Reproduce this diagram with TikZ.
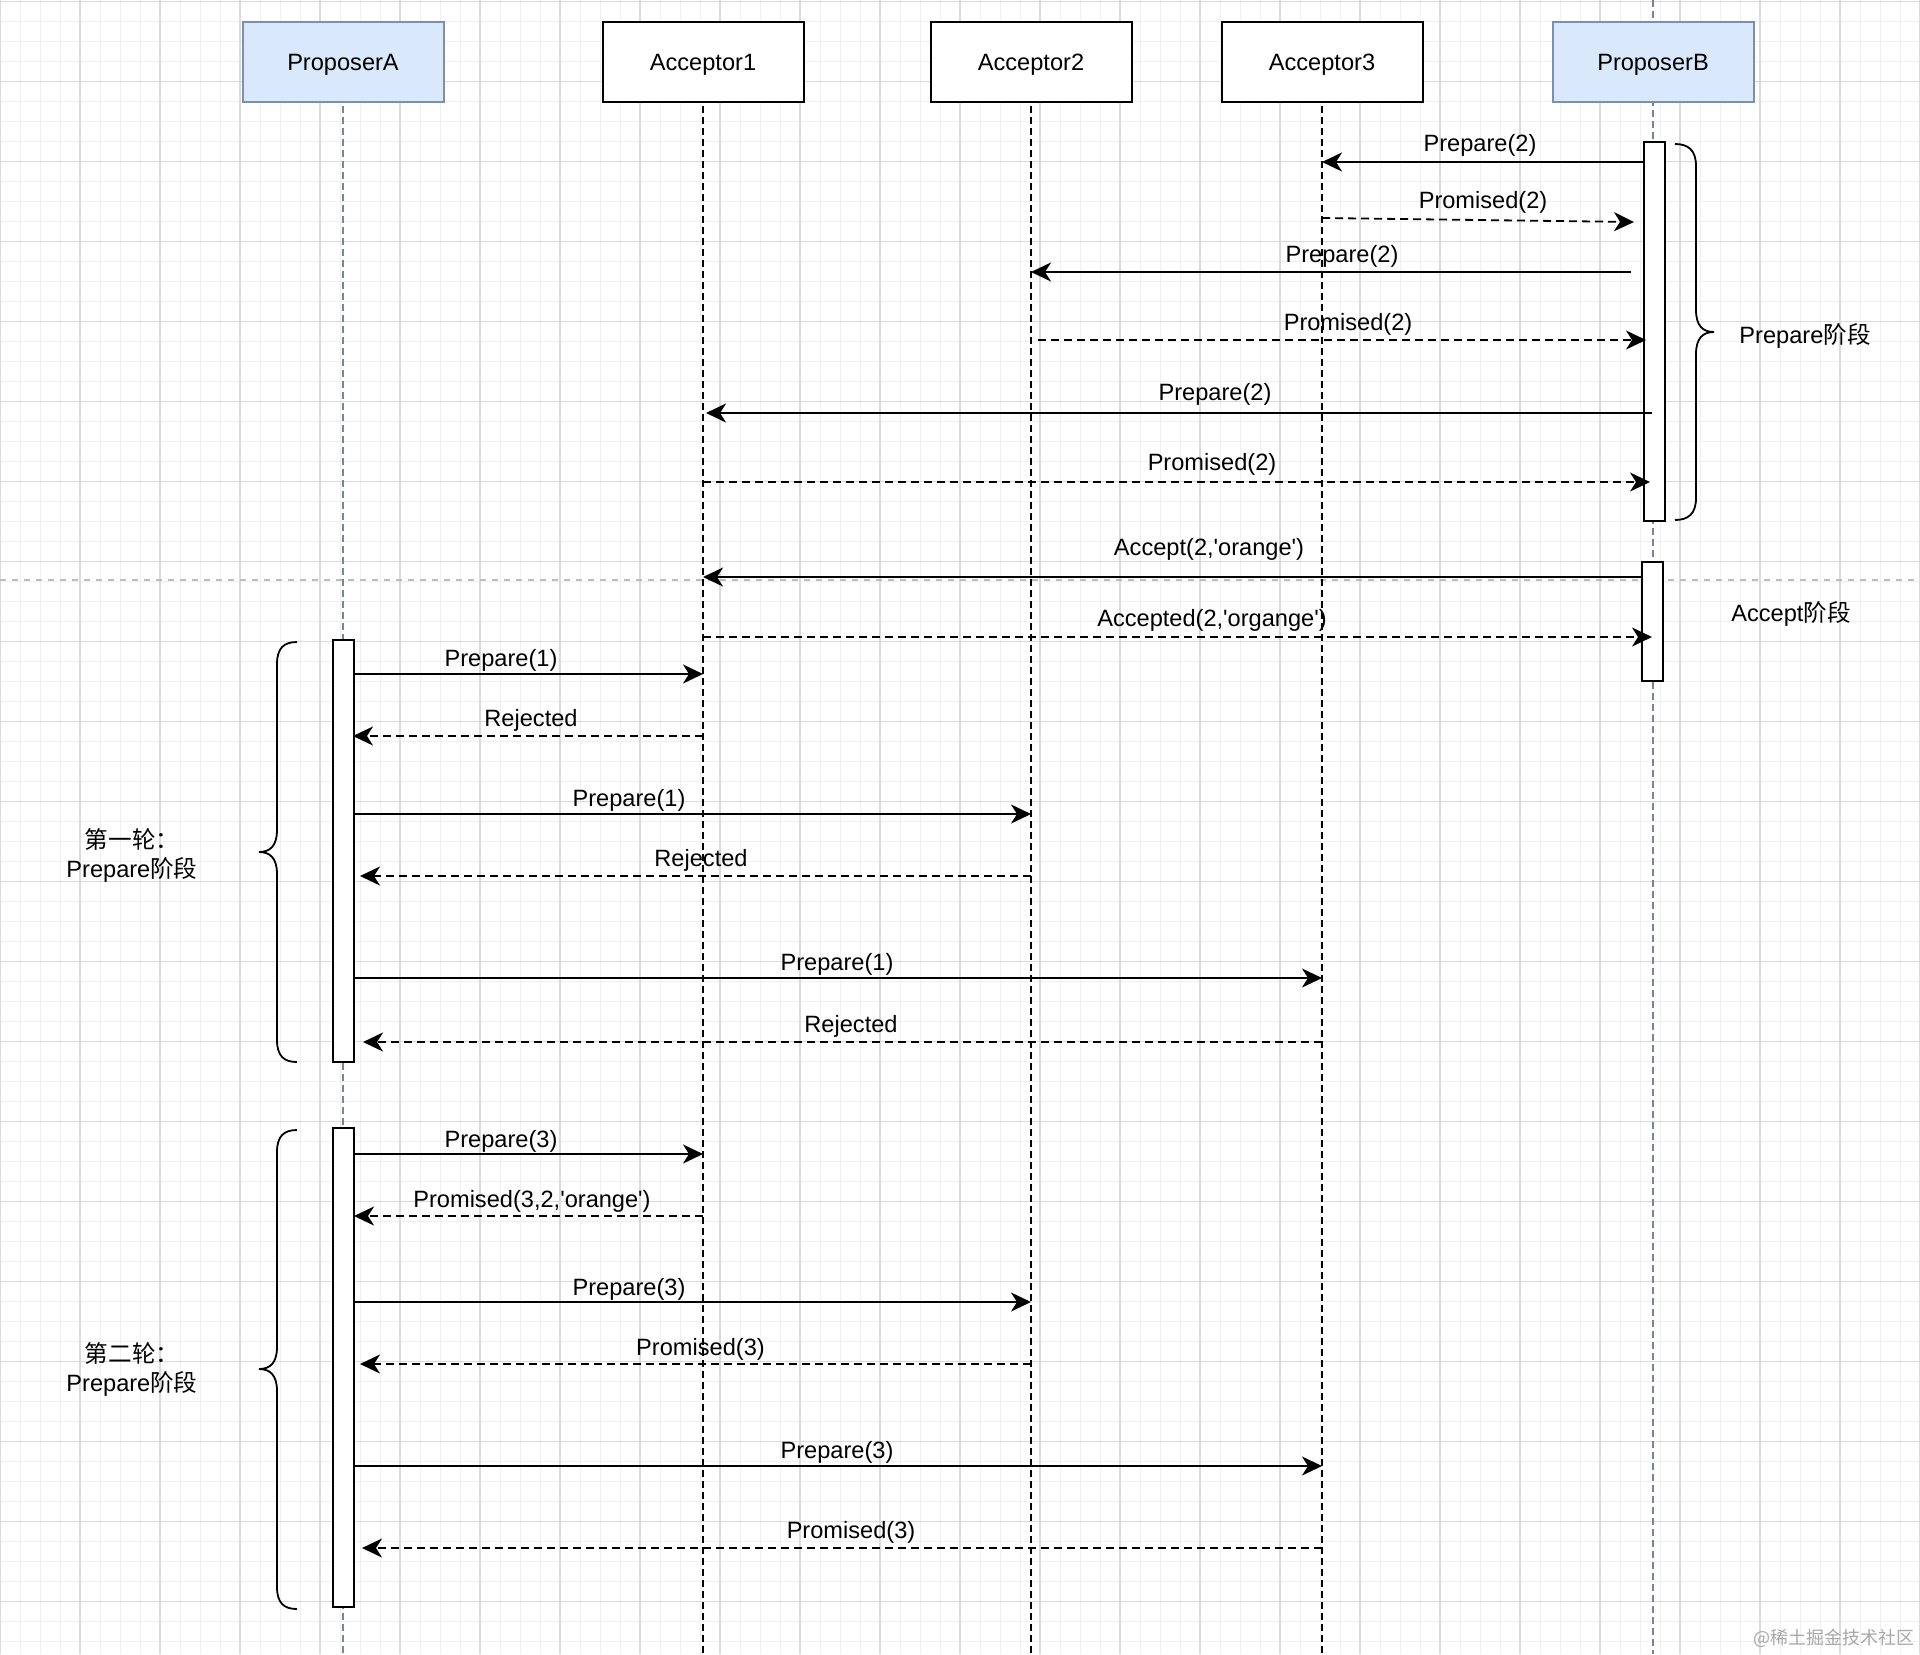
\documentclass[tikz,border=0pt]{standalone}
\usepackage{fontspec}
\setmainfont{Liberation Sans}
\newfontfamily\cjk{Noto Sans CJK SC}
\usetikzlibrary{arrows.meta}
\definecolor{gridmaj}{HTML}{DADADA}
\definecolor{gridmin}{HTML}{F0F0F0}
\definecolor{propfill}{HTML}{DAE8FC}
\definecolor{propdraw}{HTML}{7C8FB0}
\definecolor{lifegrey}{HTML}{7A8496}
\definecolor{sepgrey}{HTML}{BDBDBD}
\definecolor{wmgrey}{HTML}{A8A8A8}
\newcommand\sq{\textquotesingle}
\begin{document}
\begin{tikzpicture}[x=0.5pt,y=-0.5pt,
  every node/.style={font=\fontsize{11.8pt}{14.5pt}\selectfont},
  gridminor/.style={draw=gridmin,line width=0.5pt},
  gridmajor/.style={draw=gridmaj,line width=0.6pt},
  accbox/.style={draw=black,line width=1pt,fill=white,minimum width=100.5pt,minimum height=40pt,inner sep=0pt,text height=10pt,text depth=1.5pt},
  propbox/.style={draw=propdraw,line width=1pt,fill=propfill,minimum width=100.5pt,minimum height=40pt,inner sep=0pt,text height=10pt,text depth=1.5pt},
  lifeacc/.style={draw=black,line width=0.8pt,dash pattern=on 3.5pt off 2pt},
  lifeprop/.style={draw=lifegrey,line width=0.8pt,dash pattern=on 3.5pt off 2pt},
  actbar/.style={draw=black,line width=1pt,fill=white,minimum width=10.5pt,inner sep=0pt},
  msg/.style={line width=0.9pt,-{Stealth[length=10pt,width=9.5pt,inset=3pt]}},
  rep/.style={msg,dash pattern=on 4pt off 2.5pt},
  sepline/.style={draw=sepgrey,line width=0.6pt,dash pattern=on 3pt off 3pt},
  bracestyle/.style={draw=black,line width=0.9pt},
  lbl/.style={inner sep=0pt,yshift=-1.25pt},
  wm/.style={inner sep=0pt,text=wmgrey,font=\fontsize{9pt}{11pt}\selectfont}
]
\useasboundingbox (0,0) rectangle (1920,1654);
\fill[white] (0,0) rectangle (1920,1654);
% grid
\foreach \gx in {0,20,...,1920} \draw[gridminor] (\gx,0) -- (\gx,1654);
\foreach \gy in {1.5,21.5,...,1654} \draw[gridminor] (0,\gy) -- (1920,\gy);
\foreach \gx in {0,80,...,1920} \draw[gridmajor] (\gx,0) -- (\gx,1654);
\foreach \gy in {1.5,81.5,...,1654} \draw[gridmajor] (0,\gy) -- (1920,\gy);

% separator
\coordinate (sepL) at (0,580);
\coordinate (sepR) at (1920,580);
\draw[sepline] (sepL) -- (sepR);

% header positions
\coordinate (pAtop) at (343,62);
\coordinate (a1top) at (703,62);
\coordinate (a2top) at (1031,62);
\coordinate (a3top) at (1322,62);
\coordinate (pBtop) at (1653,62);
\coordinate (pBsky) at (1653,0);
\coordinate (pAend) at (343,1654);
\coordinate (a1end) at (703,1654);
\coordinate (a2end) at (1031,1654);
\coordinate (a3end) at (1322,1654);
\coordinate (pBend) at (1653,1654);

% lifelines
\draw[lifeprop] (pAtop) -- (pAend);
\draw[lifeacc] (a1top) -- (a1end);
\draw[lifeacc] (a2top) -- (a2end);
\draw[lifeacc] (a3top) -- (a3end);
\draw[lifeprop] (pBsky) -- (pBend);

% headers
\node[propbox] (pA) at (pAtop) {ProposerA};
\node[accbox] (a1) at (a1top) {Acceptor1};
\node[accbox] (a2) at (a2top) {Acceptor2};
\node[accbox] (a3) at (a3top) {Acceptor3};
\node[propbox] (pB) at (pBtop) {ProposerB};

% activation bars
\node[actbar,minimum height=189.5pt] (barB1) at (1654.5,331.5) {};
\node[actbar,minimum height=59.5pt] (barB2) at (1652.5,621.5) {};
\node[actbar,minimum height=211pt] (barA1) at (343,851) {};
\node[actbar,minimum height=239.5pt] (barA2) at (343,1367.5) {};

% braces
\draw[bracestyle] (1675,144) .. controls (1688,144) and (1696,150) .. (1696,166) -- (1696,310)
  .. controls (1696,326) and (1703,332) .. (1714,332)
  .. controls (1703,332) and (1696,338) .. (1696,354) -- (1696,498)
  .. controls (1696,514) and (1688,520) .. (1675,520);
\draw[bracestyle] (297,642) .. controls (284,642) and (277,648) .. (277,664) -- (277,830)
  .. controls (277,846) and (270,852) .. (259,852)
  .. controls (270,852) and (277,858) .. (277,874) -- (277,1040)
  .. controls (277,1056) and (284,1062) .. (297,1062);
\draw[bracestyle] (297,1130) .. controls (284,1130) and (277,1136) .. (277,1152) -- (277,1347)
  .. controls (277,1363) and (270,1369) .. (259,1369)
  .. controls (270,1369) and (277,1375) .. (277,1391) -- (277,1587)
  .. controls (277,1603) and (284,1609) .. (297,1609);

% phase labels
\node[lbl] (phP) at (1805,333) {Prepare{\cjk 阶段}};
\node[lbl] (phA) at (1791,611) {Accept{\cjk 阶段}};
\node[lbl,align=center] (r1) at (132,852.5) {{\cjk 第一轮：}\\Prepare{\cjk 阶段}};
\node[lbl,align=center] (r2) at (132,1366.5) {{\cjk 第二轮：}\\Prepare{\cjk 阶段}};

% ---- ProposerB prepare phase
\coordinate (m1s) at (1645,162);   \coordinate (m1e) at (1322,162);
\coordinate (m2s) at (1322,218);   \coordinate (m2e) at (1634,222);
\coordinate (m3s) at (1631,272);   \coordinate (m3e) at (1031,272);
\coordinate (m4s) at (1038,340);   \coordinate (m4e) at (1646,340);
\coordinate (m5s) at (1652,413);   \coordinate (m5e) at (706,413);
\coordinate (m6s) at (703,482);    \coordinate (m6e) at (1650,482);
\coordinate (m7s) at (1643,577);   \coordinate (m7e) at (703,577);
\coordinate (m8s) at (703,637);    \coordinate (m8e) at (1652,637);
\draw[msg] (m1s) -- (m1e);
\draw[rep] (m2s) -- (m2e);
\draw[msg] (m3s) -- (m3e);
\draw[rep] (m4s) -- (m4e);
\draw[msg] (m5s) -- (m5e);
\draw[rep] (m6s) -- (m6e);
\draw[msg] (m7s) -- (m7e);
\draw[rep] (m8s) -- (m8e);
\node[lbl] (l1) at (1480,143) {Prepare(2)};
\node[lbl] (l2) at (1483,200) {Promised(2)};
\node[lbl] (l3) at (1342,254) {Prepare(2)};
\node[lbl] (l4) at (1348,322) {Promised(2)};
\node[lbl] (l5) at (1215,392) {Prepare(2)};
\node[lbl] (l6) at (1212,462) {Promised(2)};
\node[lbl] (l7) at (1209,547) {Accept(2,\sq orange\sq)};
\node[lbl] (l8) at (1212,618) {Accepted(2,\sq organge\sq)};

% ---- ProposerA round 1
\coordinate (n1s) at (353,674);    \coordinate (n1e) at (703,674);
\coordinate (n2s) at (703,736);    \coordinate (n2e) at (353,736);
\coordinate (n3s) at (353,814);    \coordinate (n3e) at (1031,814);
\coordinate (n4s) at (1031,876);   \coordinate (n4e) at (360,876);
\coordinate (n5s) at (353,978);    \coordinate (n5e) at (1322,978);
\coordinate (n6s) at (1322,1042);  \coordinate (n6e) at (363,1042);
\draw[msg] (n1s) -- (n1e);
\draw[rep] (n2s) -- (n2e);
\draw[msg] (n3s) -- (n3e);
\draw[rep] (n4s) -- (n4e);
\draw[msg] (n5s) -- (n5e);
\draw[rep] (n6s) -- (n6e);
\node[lbl] (k1) at (501,658) {Prepare(1)};
\node[lbl] (k2) at (531,718) {Rejected};
\node[lbl] (k3) at (629,798) {Prepare(1)};
\node[lbl] (k4) at (701,857.5) {Rejected};
\node[lbl] (k5) at (837,962) {Prepare(1)};
\node[lbl] (k6) at (851,1024) {Rejected};

% ---- ProposerA round 2
\coordinate (q1s) at (353,1154);   \coordinate (q1e) at (703,1154);
\coordinate (q2s) at (703,1216);   \coordinate (q2e) at (354,1216);
\coordinate (q3s) at (353,1302);   \coordinate (q3e) at (1031,1302);
\coordinate (q4s) at (1031,1364);  \coordinate (q4e) at (360,1364);
\coordinate (q5s) at (353,1466);   \coordinate (q5e) at (1322,1466);
\coordinate (q6s) at (1322,1548);  \coordinate (q6e) at (362,1548);
\draw[msg] (q1s) -- (q1e);
\draw[rep] (q2s) -- (q2e);
\draw[msg] (q3s) -- (q3e);
\draw[rep] (q4s) -- (q4e);
\draw[msg] (q5s) -- (q5e);
\draw[rep] (q6s) -- (q6e);
\node[lbl] (j1) at (501,1139) {Prepare(3)};
\node[lbl] (j2) at (532,1199) {Promised(3,2,\sq orange\sq)};
\node[lbl] (j3) at (629,1286.5) {Prepare(3)};
\node[lbl] (j4) at (700.5,1346.5) {Promised(3)};
\node[lbl] (j5) at (837,1450) {Prepare(3)};
\node[lbl] (j6) at (851,1530) {Promised(3)};

% watermark
\node[wm] (wmark) at (1834,1638) {{\cjk @稀土掘金技术社区}};
\end{tikzpicture}
\end{document}
